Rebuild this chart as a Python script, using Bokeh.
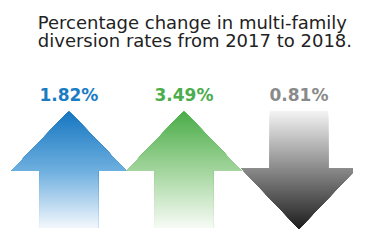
import numpy as np
from bokeh.plotting import figure
from bokeh.models import Range1d
from bokeh.core.properties import value
from bokeh.embed import file_html
from bokeh.resources import INLINE

# ---- data ----
labels = ["1.82%", "3.49%", "0.81%"]
values = [1.82, 3.49, -0.81]
directions = ["up", "up", "down"]
text_colors = ["#1b7cc3", "#4cad4c", "#8a8a8a"]
# gradient stops (tip/top, head base, far end)
grad_stops = [
    ["#1576c0", "#6eafdf", "#f2f7fc"],
    ["#49ac47", "#a3d59d", "#f7fbf5"],
    ["#f4f4f4", "#8a8a8a", "#1e1e1e"],
]
title_lines = ["Percentage change in multi-family", "diversion rates from 2017 to 2018."]

W, H = 369, 247
p = figure(width=353, height=231, x_range=Range1d(0, W), y_range=Range1d(H, 0),
           output_backend="svg", toolbar_location=None, min_border=0)
p.axis.visible = False
p.grid.visible = False
p.outline_line_color = None
p.background_fill_color = "white"
p.border_fill_color = "white"


def hex2rgb(h):
    h = h.lstrip("#")
    return np.array([int(h[i:i + 2], 16) for i in (0, 2, 4)], float)


def rgb2hex(c):
    c = np.clip(np.round(c), 0, 255).astype(int)
    return "#%02x%02x%02x" % tuple(c)


def interp(stops_y, stops_c, y):
    cs = [hex2rgb(c) for c in stops_c]
    out = np.zeros(3)
    for k in range(3):
        out[k] = np.interp(y, stops_y, [c[k] for c in cs])
    return rgb2hex(out)


head_half, shaft_half = 60.0, 30.5
xs_all, ys_all, cols = [], [], []
for i, (d, stops) in enumerate(zip(directions, grad_stops)):
    cx = 71.5 + 120.25 * i
    if d == "up":
        yt, yh, yb = 118.0, 182.0, 243.0
    else:
        yt, yh, yb = 118.0, 180.0, 244.0
    sy = [yt, yh, yb]
    for a in np.arange(yt, yb, 1.0):
        # polygon covering the arrow from row a down to its far end
        if d == "up":
            if a < yh:
                ha = head_half * (a - yt) / (yh - yt)
                xs = [cx - ha, cx + ha, cx + head_half, cx + shaft_half, cx + shaft_half,
                      cx - shaft_half, cx - shaft_half, cx - head_half]
                ys = [a, a, yh, yh, yb, yb, yh, yh]
            else:
                xs = [cx - shaft_half, cx + shaft_half, cx + shaft_half, cx - shaft_half]
                ys = [a, a, yb, yb]
        else:
            if a < yh:
                xs = [cx - shaft_half, cx + shaft_half, cx + shaft_half, cx + head_half,
                      cx, cx - head_half, cx - shaft_half]
                ys = [a, a, yh, yh, yb, yh, yh]
            else:
                ha = head_half * (yb - a) / (yb - yh)
                xs = [cx - ha, cx + ha, cx]
                ys = [a, a, yb]
        xs_all.append(xs)
        ys_all.append(ys)
        cols.append(interp(sy, stops, a + 0.5))

p.patches(xs_all, ys_all, fill_color=cols, line_color=None)

# value labels
lx = [71.5 + 120.25 * i for i in range(len(labels))]
p.text(x=lx, y=[101.5] * 3, text=labels, text_color=text_colors,
       text_font=value("DejaVu Sans"), text_font_style="bold", text_font_size="17px",
       text_align="center", text_baseline="alphabetic")

# title
p.text(x=[39, 39], y=[23.5, 42.5], text=title_lines, text_color="#222222",
       text_font=value("DejaVu Sans"), text_font_size="18px",
       text_align="left", text_baseline="alphabetic")

open("out.html", "w").write(file_html(p, INLINE))
